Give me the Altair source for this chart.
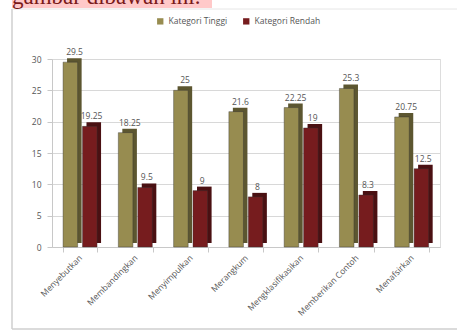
import altair as alt
import pandas as pd

categories = ["Menyebutkan", "Membandingkan", "Menyimpulkan", "Merangkum",
              "Mengklasifikasikan", "Memberikan Contoh", "Menafsirkan"]
series_names = ["Kategori Tinggi", "Kategori Rendah"]
tinggi = [29.5, 18.25, 25, 21.6, 22.25, 25.3, 20.75]
rendah = [19.25, 9.5, 9, 8, 19, 8.3, 12.5]
label_tinggi = ["29.5", "18.25", "25", "21.6", "22.25", "25.3", "20.75"]
label_rendah = ["19.25", "9.5", "9", "8", "19", "8.3", "12.5"]
y_ticks = [0, 5, 10, 15, 20, 25, 30]
caption = "gambar dibawah ini."

rows = []
for c, t, r, lt, lr in zip(categories, tinggi, rendah, label_tinggi, label_rendah):
    rows.append({"kategori": c, "seri": series_names[0], "nilai": t, "label": lt})
    rows.append({"kategori": c, "seri": series_names[1], "nilai": r, "label": lr})
df = pd.DataFrame(rows)

front_colors = ["#978C50", "#761C1E"]
side_colors = ["#5C5630", "#4A1012"]

x_enc = alt.X("kategori:N", sort=categories,
              scale=alt.Scale(paddingInner=0.38, paddingOuter=0.2),
              axis=alt.Axis(title=None, labelAngle=-45, labelAlign="right",
                            labelBaseline="middle", labelFontSize=8.5,
                            labelColor="#555555", labelFont="Open Sans",
                            domainColor="#c8c8c8", tickColor="#c8c8c8",
                            tickBand="extent", labelPadding=4))
y_enc = alt.Y("nilai:Q", scale=alt.Scale(domain=[0, 30]),
              axis=alt.Axis(title=None, values=y_ticks, labelFontSize=8.5,
                            labelColor="#555555", labelFont="Open Sans",
                            gridColor="#d8d8d8", domainColor="#c8c8c8",
                            tickColor="#c8c8c8", labelPadding=6))

xo_front = alt.XOffset("seri:N", sort=series_names,
                       scale=alt.Scale(paddingInner=0.25, range=[0, 34]))
xo_side = alt.XOffset("seri:N", sort=series_names,
                      scale=alt.Scale(paddingInner=0.25, range=[4, 38]))

side = alt.Chart(df).mark_bar(yOffset=-4).encode(
    x=x_enc, xOffset=xo_side, y=y_enc,
    color=alt.condition(alt.datum.seri == series_names[0],
                        alt.value(side_colors[0]), alt.value(side_colors[1]))
)
front = alt.Chart(df).mark_bar(stroke="#333333", strokeWidth=0.4).encode(
    x=x_enc, xOffset=xo_front, y=y_enc,
    color=alt.Color("seri:N", sort=series_names,
                    scale=alt.Scale(domain=series_names, range=front_colors),
                    legend=alt.Legend(title=None, orient="none", direction="horizontal",
                                      legendX=104, legendY=-42, symbolType="square",
                                      symbolSize=40, labelFontSize=8.5,
                                      labelColor="#555555", labelFont="Open Sans",
                                      columnPadding=14, symbolStrokeWidth=0))
)
labels = alt.Chart(df).mark_text(dy=-10, dx=3, fontSize=8.5, color="#555555",
                                 font="Open Sans").encode(
    x=x_enc, xOffset=xo_front, y=y_enc, text="label:N")

one = alt.Data(values=[{}])
frame_color = "#cfcfcf"
frame_left = alt.Chart(one).mark_rule(color=frame_color, strokeWidth=1.5, clip=False).encode(
    x=alt.value(-40), y=alt.value(-50), y2=alt.value(270))
frame_top = alt.Chart(one).mark_rule(color="#e6e6e6", strokeWidth=1, clip=False).encode(
    x=alt.value(-40), x2=alt.value(405), y=alt.value(-50))
frame_bottom = alt.Chart(one).mark_rule(color=frame_color, strokeWidth=1.5, clip=False).encode(
    x=alt.value(-40), x2=alt.value(405), y=alt.value(270))
pink = alt.Chart(one).mark_rect(fill="#FFC9C9", clip=False).encode(
    x=alt.value(-40), x2=alt.value(160), y=alt.value(-60), y2=alt.value(-51))
cap = alt.Chart(one).mark_text(text=caption, font="Liberation Serif", fontSize=23,
                               color="#7A1A1A", align="left", baseline="alphabetic",
                               clip=False).encode(
    x=alt.value(-40), y=alt.value(-55))

chart = alt.layer(frame_left, frame_top, frame_bottom, pink, cap,
                  side, front, labels).resolve_scale(
    xOffset="independent"
).properties(
    width=388, height=188,
    autosize=alt.AutoSizeParams(type="none"),
    padding={"left": 52, "top": 59, "right": 17, "bottom": 84},
).configure_view(stroke=None).configure(background="white")

chart.save("out.html", embed_options={"renderer": "svg", "actions": False})
